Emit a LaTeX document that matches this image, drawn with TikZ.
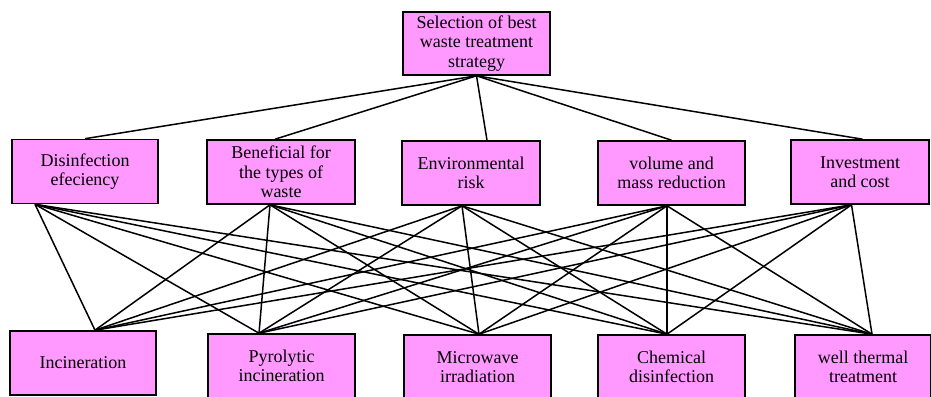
\documentclass[tikz,border=0pt]{standalone}
\usepackage{fontspec}
\setmainfont{Liberation Serif}
\newfontfamily\critfont{Liberation Serif}
\usetikzlibrary{positioning,calc}
\definecolor{boxpink}{RGB}{255,153,255}
\tikzset{crit/.style={draw, rectangle, fill=boxpink, line width=1.6pt, inner sep=2pt, minimum height=64pt, align=center, font=\critfont\fontsize{18}{19.5}\selectfont}}
\tikzstyle{ln}=[line width=1.5pt]

\begin{document}
\begin{tikzpicture}[x=1pt,y=-1pt]
\useasboundingbox (0,0) rectangle (931,396);
% goal
\node[crit, minimum width=147pt, minimum height=63pt] (G) at (476.5,43.5) {Selection of best\\waste treatment\\strategy};
% criteria
\node[crit, minimum width=146pt] (D1) at (85,171.5) {Disinfection\\efeciency};
\node[crit, minimum width=148pt] (D2) at (281,172) {Beneficial for\\the types of\\waste};
\node[crit, minimum width=138pt] (D3) at (471,173) {Environmental\\risk};
\node[crit, minimum width=147pt] (D4) at (671.5,173) {volume and\\mass reduction};
\node[crit, minimum width=138pt] (D5) at (860,172) {Investment\\and cost};
% alternatives
\node[crit, minimum width=146pt] (A1) at (83,363) {Incineration};
\node[crit, minimum width=147pt] (A2) at (281.5,366) {Pyrolytic\\incineration};
\node[crit, minimum width=147pt] (A3) at (477.5,367) {Microwave\\irradiation};
\node[crit, minimum width=147pt] (A4) at (671.5,367) {Chemical\\disinfection};
\node[crit, minimum width=136pt] (A5) at (863,367) {well thermal\\treatment};
% goal to criteria
\foreach \d/\dx in {D1/0,D2/-6,D3/16,D4/0,D5/2.5}
  \draw[ln] (G.south) -- ([xshift=\dx pt]\d.north);
% criteria to alternatives
\foreach \d/\dx in {D1/-50,D2/-11,D3/-9,D4/-4.5,D5/-8.5}
  \foreach \a/\ax in {A1/12,A2/-22.5,A3/1.5,A4/-4.5,A5/9}
    \draw[ln] ([xshift=\dx pt]\d.south) -- ([xshift=\ax pt]\a.north);
\end{tikzpicture}
\end{document}
